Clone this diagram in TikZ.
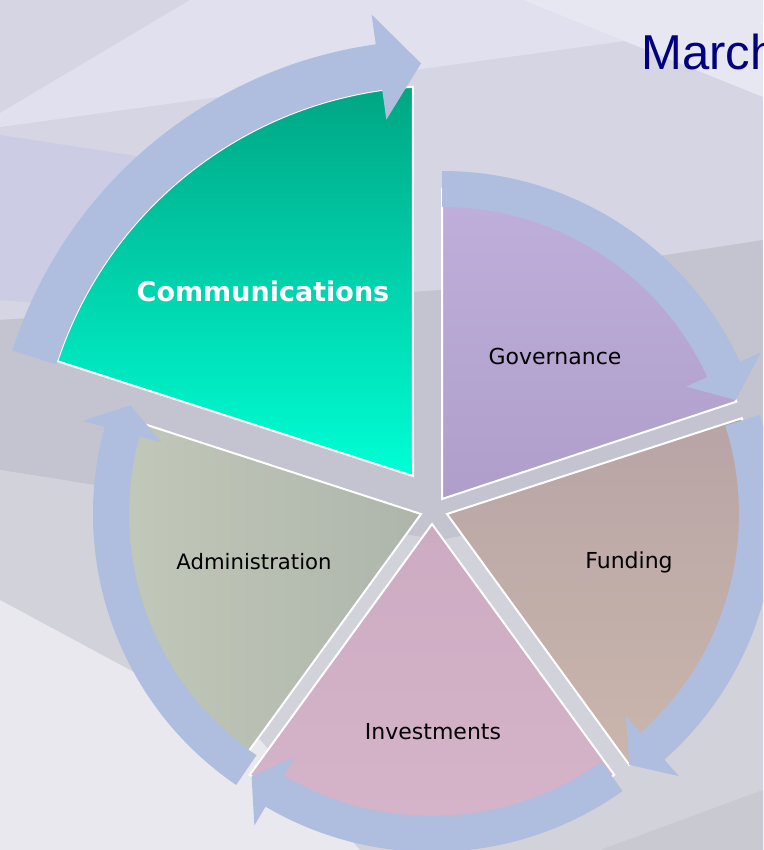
\documentclass[tikz,border=0pt]{standalone}
\usepackage{fontspec}
\setmainfont{DejaVu Sans}
\newfontfamily\titlefont{Liberation Sans}
\usetikzlibrary{calc}
\definecolor{bgbase}{HTML}{D5D5E3}
\definecolor{bgtop}{HTML}{E0E0EE}
\definecolor{bgtopr}{HTML}{E7E7F2}
\definecolor{bgleft}{HTML}{CCCCE4}
\definecolor{bgmid}{HTML}{C4C4D0}
\definecolor{bglow}{HTML}{D2D2DA}
\definecolor{bglight}{HTML}{E8E8EE}
\definecolor{bgcorner}{HTML}{C9C9D1}
\definecolor{arrowc}{HTML}{AFBDDF}
\definecolor{titlec}{HTML}{000080}
\definecolor{commtop}{HTML}{00A583}
\definecolor{commbot}{HTML}{00FFD5}
\definecolor{govtop}{HTML}{C0AFDC}
\definecolor{govbot}{HTML}{AE9EC9}
\definecolor{funtop}{HTML}{B8A4A5}
\definecolor{funbot}{HTML}{CAB6AC}
\definecolor{invtop}{HTML}{CDABC2}
\definecolor{invbot}{HTML}{D6B4C9}
\definecolor{admleft}{HTML}{C3CBBB}
\definecolor{admright}{HTML}{AEB5AB}
\tikzset{
  segline/.style={draw=white, line width=2pt, line join=miter},
  arrowfill/.style={fill=arrowc},
  lbl/.style={anchor=base, inner sep=0pt, text=black, font=\fontsize{22}{26}\selectfont},
}
% #1 cx, #2 cy (pixels, down), #3 tail angle, #4 head base angle, #5 tip angle, #6 rin, #7 rout, #8 head half width
\newcommand{\cyclearrow}[8]{%
  \begin{scope}[shift={(#1,-#2)}]
    \fill[arrowfill] (#3:#6) -- (#3:#7) arc[start angle=#3, end angle=#4, radius=#7]
      -- (#4:{(#6+#7)/2+#8}) -- (#5:{(#6+#7)/2}) -- (#4:{(#6+#7)/2-#8})
      -- (#4:#6) arc[start angle=#4, end angle=#3, radius=#6] -- cycle;
  \end{scope}}
% #1 apex x, #2 apex y, #3 start angle, #4 end angle, #5 radius, #6 style
\newcommand{\pieseg}[6]{%
  \path[#6] (#1,-#2) -- ++(#3:#5) arc[start angle=#3, end angle=#4, radius=#5] -- cycle;}
\begin{document}
\begin{tikzpicture}[x=1pt,y=1pt]
\useasboundingbox (0,0) rectangle (763,-850);
\clip (0,0) rectangle (763,-850);
% background
\fill[bgbase] (0,0) rectangle (763,-850);
\fill[bgtop] (0,-113) -- (190,0) -- (763,0) -- (763,-22) -- (0,-127) -- cycle;
\fill[bgtopr] (523,0) -- (763,0) -- (763,-97) -- cycle;
\fill[bgleft] (0,-135) -- (130,-155) -- (400,-215) -- (400,-330) -- (0,-300) -- cycle;
\fill[bgmid] (0,-320) -- (440,-290) -- (763,-240) -- (763,-480) -- (440,-540) -- (0,-470) -- cycle;
\fill[bglow] (0,-470) -- (440,-540) -- (763,-480) -- (763,-850) -- (0,-850) -- cycle;
\fill[bglight] (0,-600) -- (260,-740) -- (360,-850) -- (0,-850) -- cycle;
\fill[bgcorner] (600,-850) -- (763,-790) -- (763,-850) -- cycle;
% communications (exploded, enlarged)
\path[segline, top color=commtop, bottom color=commbot]
  (413,-476) -- ($(438,-487)+(161.7:401)$) arc[start angle=161.7, end angle=93.6, radius=401] -- cycle;
% other segments
\pieseg{442}{499}{90}{18.3}{310}{segline, top color=govtop, bottom color=govbot}
\pieseg{447}{514}{18}{-54}{310}{segline, top color=funtop, bottom color=funbot}
\pieseg{432}{524}{-54}{-126}{310}{segline, top color=invtop, bottom color=invbot}
\pieseg{421}{514}{-126}{-198}{310}{segline, left color=admleft, right color=admright}
% arrows
\cyclearrow{438}{487}{162.2}{98}{92.3}{401}{447}{53}
\cyclearrow{442}{499}{90}{24.7}{18.6}{292}{328}{41}
\cyclearrow{447}{514}{17.6}{-48.5}{-54}{292}{328}{40}
\cyclearrow{432}{524}{-54.5}{-120.5}{-125.6}{292}{328}{40}
\cyclearrow{421}{514}{235.7}{164.6}{159.5}{292}{328}{41}
% labels
\node[lbl, text=white, font=\bfseries\fontsize{27}{32}\selectfont] (comm) at (263,-301) {Communications};
\node[lbl] (gov) at (555,-364) {Governance};
\node[lbl] (fund) at (629,-568) {Funding};
\node[lbl, font=\fontsize{21.2}{26}\selectfont] (adm) at (254,-569) {Administration};
\node[lbl] (inv) at (433,-739) {Investments};
\node[anchor=base west, inner sep=0pt, text=titlec, font=\titlefont\fontsize{49}{58}\selectfont] (title) at (641,-70) {March};
\end{tikzpicture}
\end{document}
